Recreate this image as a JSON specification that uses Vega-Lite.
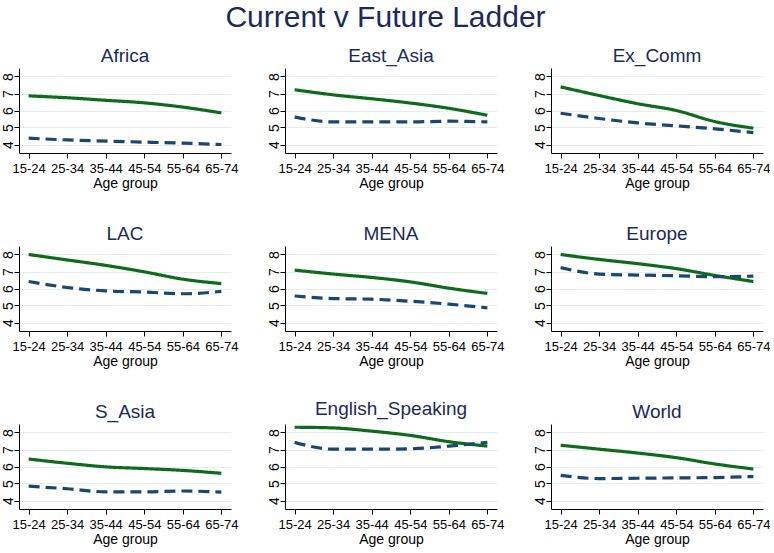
{
  "$schema": "https://vega.github.io/schema/vega-lite/v6.json",
  "background": "white",
  "padding": {"left": 0, "top": 3, "right": 0, "bottom": 4},
  "title": {"text": "Current v Future Ladder", "fontSize": 30, "fontWeight": "normal", "font": "Liberation Sans", "color": "#1c2a5a", "anchor": "middle", "offset": 14},
  "data": {"values": [
    {"region": "Africa", "age": "15-24", "series": "Future", "v": 6.86},
    {"region": "Africa", "age": "25-34", "series": "Future", "v": 6.75},
    {"region": "Africa", "age": "35-44", "series": "Future", "v": 6.6},
    {"region": "Africa", "age": "45-54", "series": "Future", "v": 6.45},
    {"region": "Africa", "age": "55-64", "series": "Future", "v": 6.2},
    {"region": "Africa", "age": "65-74", "series": "Future", "v": 5.86},
    {"region": "Africa", "age": "15-24", "series": "Current", "v": 4.37},
    {"region": "Africa", "age": "25-34", "series": "Current", "v": 4.27},
    {"region": "Africa", "age": "35-44", "series": "Current", "v": 4.2},
    {"region": "Africa", "age": "45-54", "series": "Current", "v": 4.14},
    {"region": "Africa", "age": "55-64", "series": "Current", "v": 4.08},
    {"region": "Africa", "age": "65-74", "series": "Current", "v": 4.0},
    {"region": "East_Asia", "age": "15-24", "series": "Future", "v": 7.22},
    {"region": "East_Asia", "age": "25-34", "series": "Future", "v": 6.92},
    {"region": "East_Asia", "age": "35-44", "series": "Future", "v": 6.69},
    {"region": "East_Asia", "age": "45-54", "series": "Future", "v": 6.44},
    {"region": "East_Asia", "age": "55-64", "series": "Future", "v": 6.13},
    {"region": "East_Asia", "age": "65-74", "series": "Future", "v": 5.72},
    {"region": "East_Asia", "age": "15-24", "series": "Current", "v": 5.61},
    {"region": "East_Asia", "age": "25-34", "series": "Current", "v": 5.33},
    {"region": "East_Asia", "age": "35-44", "series": "Current", "v": 5.33},
    {"region": "East_Asia", "age": "45-54", "series": "Current", "v": 5.33},
    {"region": "East_Asia", "age": "55-64", "series": "Current", "v": 5.37},
    {"region": "East_Asia", "age": "65-74", "series": "Current", "v": 5.33},
    {"region": "Ex_Comm", "age": "15-24", "series": "Future", "v": 7.39},
    {"region": "Ex_Comm", "age": "25-34", "series": "Future", "v": 6.88},
    {"region": "Ex_Comm", "age": "35-44", "series": "Future", "v": 6.4},
    {"region": "Ex_Comm", "age": "45-54", "series": "Future", "v": 6.0},
    {"region": "Ex_Comm", "age": "55-64", "series": "Future", "v": 5.35},
    {"region": "Ex_Comm", "age": "65-74", "series": "Future", "v": 4.96},
    {"region": "Ex_Comm", "age": "15-24", "series": "Current", "v": 5.84},
    {"region": "Ex_Comm", "age": "25-34", "series": "Current", "v": 5.53},
    {"region": "Ex_Comm", "age": "35-44", "series": "Current", "v": 5.27},
    {"region": "Ex_Comm", "age": "45-54", "series": "Current", "v": 5.1},
    {"region": "Ex_Comm", "age": "55-64", "series": "Current", "v": 4.92},
    {"region": "Ex_Comm", "age": "65-74", "series": "Current", "v": 4.7},
    {"region": "LAC", "age": "15-24", "series": "Future", "v": 8.0},
    {"region": "LAC", "age": "25-34", "series": "Future", "v": 7.68},
    {"region": "LAC", "age": "35-44", "series": "Future", "v": 7.36},
    {"region": "LAC", "age": "45-54", "series": "Future", "v": 6.98},
    {"region": "LAC", "age": "55-64", "series": "Future", "v": 6.55},
    {"region": "LAC", "age": "65-74", "series": "Future", "v": 6.29},
    {"region": "LAC", "age": "15-24", "series": "Current", "v": 6.41},
    {"region": "LAC", "age": "25-34", "series": "Current", "v": 6.06},
    {"region": "LAC", "age": "35-44", "series": "Current", "v": 5.86},
    {"region": "LAC", "age": "45-54", "series": "Current", "v": 5.79},
    {"region": "LAC", "age": "55-64", "series": "Current", "v": 5.69},
    {"region": "LAC", "age": "65-74", "series": "Current", "v": 5.83},
    {"region": "MENA", "age": "15-24", "series": "Future", "v": 7.08},
    {"region": "MENA", "age": "25-34", "series": "Future", "v": 6.85},
    {"region": "MENA", "age": "35-44", "series": "Future", "v": 6.65},
    {"region": "MENA", "age": "45-54", "series": "Future", "v": 6.39},
    {"region": "MENA", "age": "55-64", "series": "Future", "v": 6.02},
    {"region": "MENA", "age": "65-74", "series": "Future", "v": 5.71},
    {"region": "MENA", "age": "15-24", "series": "Current", "v": 5.56},
    {"region": "MENA", "age": "25-34", "series": "Current", "v": 5.41},
    {"region": "MENA", "age": "35-44", "series": "Current", "v": 5.37},
    {"region": "MENA", "age": "45-54", "series": "Current", "v": 5.25},
    {"region": "MENA", "age": "55-64", "series": "Current", "v": 5.08},
    {"region": "MENA", "age": "65-74", "series": "Current", "v": 4.86},
    {"region": "Europe", "age": "15-24", "series": "Future", "v": 8.0},
    {"region": "Europe", "age": "25-34", "series": "Future", "v": 7.71},
    {"region": "Europe", "age": "35-44", "series": "Future", "v": 7.46},
    {"region": "Europe", "age": "45-54", "series": "Future", "v": 7.17},
    {"region": "Europe", "age": "55-64", "series": "Future", "v": 6.77},
    {"region": "Europe", "age": "65-74", "series": "Future", "v": 6.41},
    {"region": "Europe", "age": "15-24", "series": "Current", "v": 7.23},
    {"region": "Europe", "age": "25-34", "series": "Current", "v": 6.85},
    {"region": "Europe", "age": "35-44", "series": "Current", "v": 6.79},
    {"region": "Europe", "age": "45-54", "series": "Current", "v": 6.75},
    {"region": "Europe", "age": "55-64", "series": "Current", "v": 6.69},
    {"region": "Europe", "age": "65-74", "series": "Current", "v": 6.73},
    {"region": "S_Asia", "age": "15-24", "series": "Future", "v": 6.44},
    {"region": "S_Asia", "age": "25-34", "series": "Future", "v": 6.19},
    {"region": "S_Asia", "age": "35-44", "series": "Future", "v": 5.98},
    {"region": "S_Asia", "age": "45-54", "series": "Future", "v": 5.88},
    {"region": "S_Asia", "age": "55-64", "series": "Future", "v": 5.77},
    {"region": "S_Asia", "age": "65-74", "series": "Future", "v": 5.6},
    {"region": "S_Asia", "age": "15-24", "series": "Current", "v": 4.84},
    {"region": "S_Asia", "age": "25-34", "series": "Current", "v": 4.69},
    {"region": "S_Asia", "age": "35-44", "series": "Current", "v": 4.51},
    {"region": "S_Asia", "age": "45-54", "series": "Current", "v": 4.51},
    {"region": "S_Asia", "age": "55-64", "series": "Current", "v": 4.56},
    {"region": "S_Asia", "age": "65-74", "series": "Current", "v": 4.49},
    {"region": "English_Speaking", "age": "15-24", "series": "Future", "v": 8.31},
    {"region": "English_Speaking", "age": "25-34", "series": "Future", "v": 8.27},
    {"region": "English_Speaking", "age": "35-44", "series": "Future", "v": 8.08},
    {"region": "English_Speaking", "age": "45-54", "series": "Future", "v": 7.83},
    {"region": "English_Speaking", "age": "55-64", "series": "Future", "v": 7.46},
    {"region": "English_Speaking", "age": "65-74", "series": "Future", "v": 7.2},
    {"region": "English_Speaking", "age": "15-24", "series": "Current", "v": 7.42},
    {"region": "English_Speaking", "age": "25-34", "series": "Current", "v": 7.02},
    {"region": "English_Speaking", "age": "35-44", "series": "Current", "v": 7.02},
    {"region": "English_Speaking", "age": "45-54", "series": "Current", "v": 7.04},
    {"region": "English_Speaking", "age": "55-64", "series": "Current", "v": 7.2},
    {"region": "English_Speaking", "age": "65-74", "series": "Current", "v": 7.42},
    {"region": "World", "age": "15-24", "series": "Future", "v": 7.25},
    {"region": "World", "age": "25-34", "series": "Future", "v": 7.02},
    {"region": "World", "age": "35-44", "series": "Future", "v": 6.79},
    {"region": "World", "age": "45-54", "series": "Future", "v": 6.52},
    {"region": "World", "age": "55-64", "series": "Future", "v": 6.15},
    {"region": "World", "age": "65-74", "series": "Future", "v": 5.85},
    {"region": "World", "age": "15-24", "series": "Current", "v": 5.48},
    {"region": "World", "age": "25-34", "series": "Current", "v": 5.29},
    {"region": "World", "age": "35-44", "series": "Current", "v": 5.31},
    {"region": "World", "age": "45-54", "series": "Current", "v": 5.33},
    {"region": "World", "age": "55-64", "series": "Current", "v": 5.35},
    {"region": "World", "age": "65-74", "series": "Current", "v": 5.41}
  ]},
  "facet": {
    "field": "region", "type": "nominal",
    "sort": ["Africa", "East_Asia", "Ex_Comm", "LAC", "MENA", "Europe", "S_Asia", "English_Speaking", "World"],
    "header": {"title": null, "labelFontSize": 19, "labelFont": "Liberation Sans", "labelColor": "#1c2a5a", "labelPadding": 2}
  },
  "columns": 3,
  "spacing": {"column": 28, "row": 31},
  "resolve": {"axis": {"x": "independent", "y": "independent"}},
  "spec": {
    "width": 212,
    "height": 85,
    "mark": {"type": "line", "strokeWidth": 3.2, "interpolate": "monotone"},
    "encoding": {
      "x": {"field": "age", "type": "ordinal", "scale": {"type": "point", "padding": 0.25},
        "axis": {"title": "Age group", "labelAngle": 0, "grid": false, "labelPadding": 4, "titlePadding": 1}},
      "y": {"field": "v", "type": "quantitative", "scale": {"domain": [3.5, 8.5], "nice": false, "zero": false},
        "axis": {"title": null, "values": [4, 5, 6, 7, 8], "labelAngle": -90, "labelAlign": "center", "labelBaseline": "alphabetic", "labelFontSize": 14, "grid": true, "gridColor": "#e4eef0", "domain": true}},
      "color": {"field": "series", "type": "nominal", "scale": {"domain": ["Future", "Current"], "range": ["#0f6b1c", "#1a476f"]}, "legend": null},
      "strokeDash": {"field": "series", "type": "nominal", "scale": {"domain": ["Future", "Current"], "range": [[1, 0], [11, 6]]}, "legend": null}
    }
  },
  "config": {
    "view": {"stroke": null},
    "font": "Liberation Sans",
    "axis": {"labelFontSize": 13, "titleFontSize": 14, "titleFontWeight": "normal", "labelColor": "#000000", "titleColor": "#000000", "domainColor": "#000000", "tickColor": "#000000", "tickSize": 5, "labelPadding": 2, "titlePadding": 2, "domainWidth": 1}
  }
}
